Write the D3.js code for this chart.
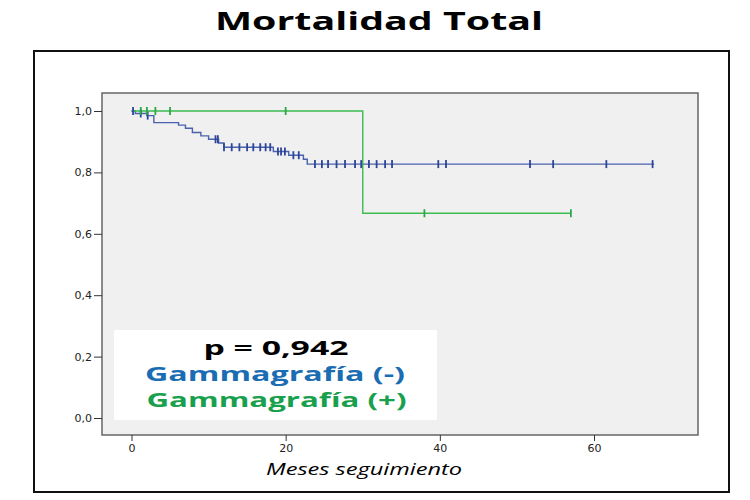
<!doctype html>
<html>
<head>
<meta charset="utf-8">
<style>
  body { margin: 0; background: #fff; }
</style>
<script src="https://d3js.org/d3.v7.min.js"></script>
</head>
<body>
<script>
// Kaplan-Meier data
var xTicks = [0, 20, 40, 60];
var yTicks = [0, 0.2, 0.4, 0.6, 0.8, 1.0];

// Gammagrafia (-) : step times / survival after each step
var negTimes = [0, 0.5, 2, 2.9, 6.1, 7, 7.9, 9, 10, 11.3, 12, 18.4, 20.4, 22.3, 22.8];
var negSurv  = [1, 0.992, 0.985, 0.962, 0.954, 0.944, 0.93, 0.919, 0.908, 0.896, 0.882, 0.868, 0.856, 0.843, 0.827];
var negEnd = 67.8;
var negCensor = [0.2, 1.2, 2.1, 10.9, 11.2, 12, 13, 14, 15, 15.8, 16.7, 17.4, 18, 19, 19.4, 19.9,
                 21, 21.7, 23.8, 24.7, 25.5, 26.6, 27.7, 29, 29.8, 30.8, 31.8, 32.9, 33.8,
                 39.8, 40.8, 51.7, 54.7, 61.6, 67.6];

// Gammagrafia (+)
var posTimes = [0, 30];
var posSurv  = [1, 0.667];
var posEnd = 57;
var posCensor = [1.2, 2, 3.1, 5, 20, 38, 57];

var pText = "p = 0,942";
var legendNames = ["Gammagrafía (-)", "Gammagrafía (+)"];

var svg = d3.select("body").append("svg")
    .attr("width", 750)
    .attr("height", 500);

// title (the source image is stretched sideways, so force the width)
svg.append("text")
    .attr("x", 215)
    .attr("y", 30)
    .attr("font-family", "Open Sans")
    .attr("font-weight", "bold")
    .attr("font-size", "25px")
    .attr("textLength", 328)
    .attr("lengthAdjust", "spacingAndGlyphs")
    .text("Mortalidad Total");

// outer frame
svg.append("rect")
    .attr("x", 34).attr("y", 51)
    .attr("width", 695).attr("height", 441)
    .attr("fill", "none")
    .attr("stroke", "#111")
    .attr("stroke-width", 2);

var plotL = 102, plotT = 93, plotR = 698, plotB = 435;

var x = d3.scaleLinear().domain([0, 60]).range([131.5, 594]);
var y = d3.scaleLinear().domain([0, 1]).range([418, 111]);

svg.append("rect")
    .attr("x", plotL).attr("y", plotT)
    .attr("width", plotR - plotL).attr("height", plotB - plotT)
    .attr("fill", "#f0f0f0")
    .attr("stroke", "#666")
    .attr("stroke-width", 1.5);

// axes
var yAxis = svg.append("g")
    .attr("transform", "translate(" + plotL + ",0)")
    .call(d3.axisLeft(y).tickValues(yTicks).tickSize(8).tickPadding(2)
        .tickFormat(function(d) { return d3.format(".1f")(d).replace(".", ","); }));
yAxis.select(".domain").remove();
yAxis.selectAll("line").attr("stroke", "#333");
yAxis.selectAll("text")
    .attr("font-family", "DejaVu Sans")
    .attr("font-size", "11px")
    .attr("fill", "#222");

var xAxis = svg.append("g")
    .attr("transform", "translate(0," + plotB + ")")
    .call(d3.axisBottom(x).tickValues(xTicks).tickSize(6).tickPadding(3));
xAxis.select(".domain").remove();
xAxis.selectAll("line").attr("stroke", "#333");
xAxis.selectAll("text")
    .attr("font-family", "DejaVu Sans")
    .attr("font-size", "11px")
    .attr("fill", "#222");

svg.append("text")
    .attr("x", 266)
    .attr("y", 475)
    .attr("font-family", "Open Sans")
    .attr("font-style", "italic")
    .attr("font-size", "17px")
    .attr("textLength", 196)
    .attr("lengthAdjust", "spacingAndGlyphs")
    .text("Meses seguimiento");

// survival step lines
function stepPoints(times, surv, end) {
    var pts = times.map(function(t, i) { return [t, surv[i]]; });
    pts.push([end, surv[surv.length - 1]]);
    return pts;
}
function survAt(times, surv, t) {
    var s = surv[0];
    times.forEach(function(tt, i) { if (tt <= t) s = surv[i]; });
    return s;
}
var line = d3.line()
    .x(function(d) { return x(d[0]); })
    .y(function(d) { return y(d[1]); })
    .curve(d3.curveStepAfter);

var groups = [
    { times: negTimes, surv: negSurv, end: negEnd, censor: negCensor, line: "#4a62ad", mark: "#2c4596" },
    { times: posTimes, surv: posSurv, end: posEnd, censor: posCensor, line: "#3cbb4f", mark: "#2aa845" }
];

groups.forEach(function(g) {
    svg.append("path")
        .datum(stepPoints(g.times, g.surv, g.end))
        .attr("d", line)
        .attr("fill", "none")
        .attr("stroke", g.line)
        .attr("stroke-width", 1.4);
});

groups.forEach(function(g) {
    svg.selectAll(null)
        .data(g.censor)
        .enter().append("line")
        .attr("x1", function(d) { return x(d); })
        .attr("x2", function(d) { return x(d); })
        .attr("y1", function(d) { return y(survAt(g.times, g.surv, d)) - 4; })
        .attr("y2", function(d) { return y(survAt(g.times, g.surv, d)) + 4; })
        .attr("stroke", g.mark)
        .attr("stroke-width", 1.8);
});

// legend box
svg.append("rect")
    .attr("x", 114).attr("y", 330)
    .attr("width", 323).attr("height", 90)
    .attr("fill", "#fff");

svg.append("text")
    .attr("x", 203.5).attr("y", 355)
    .attr("font-family", "Open Sans")
    .attr("font-weight", "bold")
    .attr("font-size", "20px")
    .attr("textLength", 145)
    .attr("lengthAdjust", "spacingAndGlyphs")
    .attr("fill", "#000")
    .text(pText);

var legendColors = ["#1a6db3", "#18a04d"];
var legendX = [145, 146.5];
var legendY = [381, 406.5];
legendNames.forEach(function(n, i) {
    svg.append("text")
        .attr("x", legendX[i]).attr("y", legendY[i])
        .attr("font-family", "Open Sans")
        .attr("font-weight", "bold")
        .attr("font-size", "20px")
        .attr("textLength", 260)
        .attr("lengthAdjust", "spacingAndGlyphs")
        .attr("fill", legendColors[i])
        .text(n);
});
</script>
</body>
</html>
